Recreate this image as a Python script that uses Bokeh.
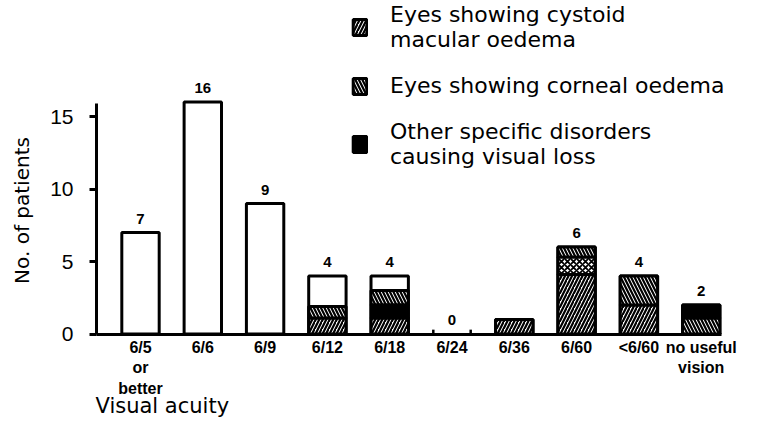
import math
from bokeh.plotting import figure
from bokeh.models import (Range1d, FixedTicker, Legend, LegendItem, Label, LabelSet,
                          ColumnDataSource)
from bokeh.embed import file_html
from bokeh.resources import INLINE
from bokeh.core.properties import value

# ---- data ----
categories = ["6/5\nor\nbetter", "6/6", "6/9", "6/12", "6/18", "6/24",
              "6/36", "6/60", "<6/60", "no useful\nvision"]
totals = [7, 16, 9, 4, 4, 0, 1, 6, 4, 2]
count_labels = ["7", "16", "9", "4", "4", "0", "", "6", "4", "2"]

# stacked segments, bottom to top within each bar
seg_cat = [3, 3, 4, 4, 4, 6, 7, 7, 7, 8, 8, 9, 9]
seg_kind = ["cystoid", "corneal",
            "cystoid", "other", "corneal",
            "cystoid",
            "cystoid", "both", "corneal",
            "cystoid", "corneal",
            "corneal", "other"]
seg_val = [1.1, 0.8,
           1.1, 0.9, 1.0,
           1.0,
           4.1, 1.2, 0.7,
           2.0, 2.0,
           1.1, 0.9]

legend_labels = {
    "cystoid": "Eyes showing cystoid\nmacular oedema",
    "corneal": "Eyes showing corneal oedema",
    "other": "Other specific disorders\ncausing visual loss",
}
y_ticks = [0, 5, 10, 15]
y_axis_top = 15.9

# ---- layout (pixels) ----
W, H = 760, 420
SX, SY = 62.3, 14.5          # px per category step / per patient
AX_X, AX_Y = 96, 333.5       # where the y axis and the baseline sit
x_lo = -(140 - AX_X) / SX    # left end of the x axis (first bar centre is 0)
x_hi = x_lo + (721 - AX_X) / SX
x_start = x_lo - AX_X / SX
x_end = x_start + W / SX
y_end = AX_Y / SY
y_start = -(H - AX_Y) / SY


def dx(px):
    return x_start + px / SX


def dy(py):
    return (AX_Y - py) / SY


FONT = "DejaVu Sans"
TFONT = "Liberation Sans"
p = figure(width=W, height=H, output_backend="svg", toolbar_location=None,
           x_range=Range1d(x_start, x_end), y_range=Range1d(y_start, y_end),
           min_border_left=0, min_border_right=0, min_border_top=0,
           min_border_bottom=0)
p.outline_line_color = None
p.xgrid.visible = False
p.ygrid.visible = False
p.background_fill_color = "white"
p.border_fill_color = "white"

BW = 0.6
x_idx = list(range(len(categories)))

# full white bars
src_all = ColumnDataSource(dict(x=[i for i in x_idx if totals[i] > 0],
                                top=[t for t in totals if t > 0]))
p.vbar(x="x", top="top", bottom=0, width=BW, source=src_all,
       fill_color="white", line_color="black", line_width=3)

# stacked segments
bottoms, tops = [], []
acc = {}
for c, v in zip(seg_cat, seg_val):
    b = acc.get(c, 0.0)
    bottoms.append(b)
    tops.append(b + v)
    acc[c] = b + v

styles = {
    "cystoid": dict(fill_color="white", hatch_pattern="/", hatch_scale=7, hatch_weight=2.2),
    "corneal": dict(fill_color="white", hatch_pattern="\\", hatch_scale=7, hatch_weight=2.2),
    "both": dict(fill_color="white", hatch_pattern="x", hatch_scale=6, hatch_weight=1.8),
    "other": dict(fill_color="black"),
}
renderers = {}
for kind, st in styles.items():
    idx = [k for k, kk in enumerate(seg_kind) if kk == kind]
    src = ColumnDataSource(dict(x=[seg_cat[k] for k in idx],
                                bottom=[bottoms[k] for k in idx],
                                top=[tops[k] for k in idx]))
    renderers[kind] = p.vbar(x="x", bottom="bottom", top="top", width=BW, source=src,
                             line_color="black", line_width=3, hatch_color="black", **st)

# small edge marks for the empty bar
zero = [i for i in x_idx if totals[i] == 0]
p.segment(x0=[i - BW / 2 for i in zero], x1=[i - BW / 2 for i in zero],
          y0=[0] * len(zero), y1=[0.3] * len(zero), line_color="black", line_width=2.5)
p.segment(x0=[i + BW / 2 for i in zero], x1=[i + BW / 2 for i in zero],
          y0=[0] * len(zero), y1=[0.3] * len(zero), line_color="black", line_width=2.5)

# count labels
src_lab = ColumnDataSource(dict(x=x_idx, y=totals, t=count_labels))
p.add_layout(LabelSet(x="x", y="y", text="t", source=src_lab, y_offset=14,
                      text_align="center", text_baseline="middle",
                      text_font=value(TFONT), text_font_style="bold",
                      text_font_size="15px", text_color="black"))

# axes, pinned inside the frame
xa = p.xaxis[0]
xa.fixed_location = 0
xa.bounds = (x_lo, x_hi)
xa.ticker = FixedTicker(ticks=x_idx)
xa.major_label_overrides = {i: c for i, c in zip(x_idx, categories)}
xa.major_tick_line_color = None
xa.major_tick_out = 0
xa.major_tick_in = 0
xa.minor_tick_line_color = None
xa.axis_line_width = 3
xa.major_label_text_font = TFONT
xa.major_label_text_font_style = "bold"
xa.major_label_text_font_size = "16px"
xa.major_label_text_line_height = 1.2
xa.major_label_text_color = "black"
xa.major_label_standoff = 5

ya = p.yaxis[0]
ya.fixed_location = x_lo
ya.bounds = (0, y_axis_top)
ya.ticker = FixedTicker(ticks=y_ticks)
ya.minor_tick_line_color = None
ya.axis_line_width = 3
ya.major_tick_line_width = 3
ya.major_tick_out = 7
ya.major_tick_in = 0
ya.major_label_text_font = TFONT
ya.major_label_text_font_size = "21px"
ya.major_label_text_color = "black"
ya.major_label_standoff = 16

p.add_layout(Label(x=dx(21), y=dy(210), text="No. of patients", angle=math.pi / 2,
                   text_font=FONT, text_font_size="20px", text_align="center",
                   text_baseline="middle", text_color="black"))
p.add_layout(Label(x=dx(95), y=dy(405), text="Visual acuity",
                   text_font=FONT, text_font_size="21px", text_align="left",
                   text_baseline="middle", text_color="black"))

legend = Legend(items=[LegendItem(label=legend_labels[k], renderers=[renderers[k]])
                       for k in ["cystoid", "corneal", "other"]],
                location=(351, H - 169))
legend.background_fill_alpha = 0
legend.border_line_alpha = 0
legend.padding = 0
legend.margin = 0
legend.spacing = 21
legend.label_standoff = 22
legend.glyph_width = 17
legend.glyph_height = 20
legend.label_text_font = FONT
legend.label_text_font_size = "22px"
legend.label_text_line_height = 1.05
legend.label_text_color = "black"
p.add_layout(legend)

open("out.html", "w").write(file_html(p, INLINE))
